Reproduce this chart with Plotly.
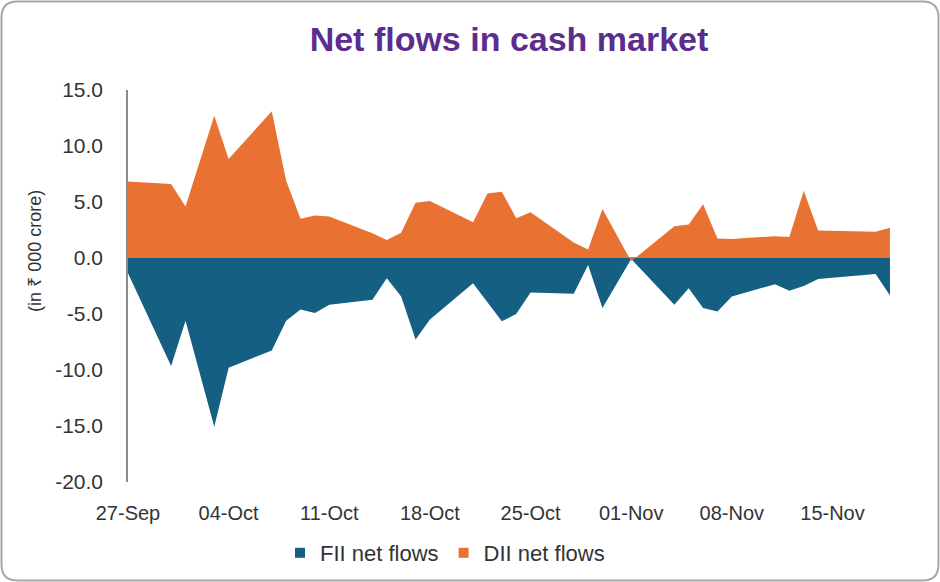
import plotly.graph_objects as go

dates = ['2024-09-27', '2024-09-30', '2024-10-01', '2024-10-03', '2024-10-04',
         '2024-10-07', '2024-10-08', '2024-10-09', '2024-10-10', '2024-10-11',
         '2024-10-14', '2024-10-15', '2024-10-16', '2024-10-17', '2024-10-18',
         '2024-10-21', '2024-10-22', '2024-10-23', '2024-10-24', '2024-10-25',
         '2024-10-28', '2024-10-29', '2024-10-30', '2024-10-31', '2024-11-01',
         '2024-11-04', '2024-11-05', '2024-11-06', '2024-11-07', '2024-11-08',
         '2024-11-11', '2024-11-12', '2024-11-13', '2024-11-14', '2024-11-18',
         '2024-11-19']

fii = [-1.36, -9.65, -5.6, -15.07, -9.8,
       -8.26, -5.6, -4.6, -4.9, -4.17,
       -3.73, -1.81, -3.43, -7.28, -5.5,
       -2.25, -3.95, -5.65, -5.0, -3.08,
       -3.2, -0.62, -4.47, -2.3, -0.1,
       -4.17, -2.7, -4.47, -4.77, -3.43,
       -2.34, -2.93, -2.49, -1.87, -1.42,
       -3.35]

dii = [6.84, 6.6, 4.6, 12.7, 8.85,
       13.1, 6.9, 3.5, 3.8, 3.7,
       2.2, 1.6, 2.25, 4.94, 5.09,
       3.2, 5.77, 5.92, 3.55, 4.08,
       1.39, 0.77, 4.38, 2.05, -0.3,
       2.84, 3.0, 4.8, 1.75, 1.7,
       1.95, 1.87, 6.0, 2.45, 2.35,
       2.7]

tick_dates = ['2024-09-27', '2024-10-04', '2024-10-11', '2024-10-18',
              '2024-10-25', '2024-11-01', '2024-11-08', '2024-11-15']
tick_text = ['27-Sep', '04-Oct', '11-Oct', '18-Oct', '25-Oct', '01-Nov', '08-Nov', '15-Nov']

y_ticks = [15, 10, 5, 0, -5, -10, -15, -20]
y_tick_text = ['15.0', '10.0', '5.0', '0.0', '-5.0', '-10.0', '-15.0', '-20.0']

FII_COLOR = '#156082'
DII_COLOR = '#E97132'
FONT = 'Liberation Sans, Arial, Noto Sans, sans-serif'

W, H = 940, 582
L, R, T, B = 128, 50, 90, 100

fig = go.Figure()
fig.add_trace(go.Scatter(x=dates, y=fii, mode='lines', fill='tozeroy',
                         line=dict(width=0, color=FII_COLOR), fillcolor=FII_COLOR,
                         showlegend=False, hoverinfo='skip'))
fig.add_trace(go.Scatter(x=dates, y=dii, mode='lines', fill='tozeroy',
                         line=dict(width=0, color=DII_COLOR), fillcolor=DII_COLOR,
                         showlegend=False, hoverinfo='skip'))
# legend entries
fig.add_trace(go.Scatter(x=[None], y=[None], mode='markers', name='FII net flows',
                         marker=dict(symbol='square', size=10, color=FII_COLOR)))
fig.add_trace(go.Scatter(x=[None], y=[None], mode='markers', name='DII net flows',
                         marker=dict(symbol='square', size=10, color=DII_COLOR)))

# rounded border in paper coordinates
pw, ph = W - L - R, H - T - B
def px(x):
    return (x - L) / pw
def py(y):
    return (H - B - y) / ph
x0, x1, y0, y1, r = 1.5, 938.5, 1.5, 580.5, 16
path = (f"M {px(x0 + r)},{py(y0)} L {px(x1 - r)},{py(y0)} "
        f"Q {px(x1)},{py(y0)} {px(x1)},{py(y0 + r)} "
        f"L {px(x1)},{py(y1 - r)} Q {px(x1)},{py(y1)} {px(x1 - r)},{py(y1)} "
        f"L {px(x0 + r)},{py(y1)} Q {px(x0)},{py(y1)} {px(x0)},{py(y1 - r)} "
        f"L {px(x0)},{py(y0 + r)} Q {px(x0)},{py(y0)} {px(x0 + r)},{py(y0)} Z")
fig.add_shape(type='path', path=path, xref='paper', yref='paper',
              line=dict(color='#A6A6A6', width=2), layer='above')

fig.add_annotation(text='(in ₹ 000 crore)', textangle=-90, showarrow=False,
                   xref='paper', yref='paper', x=px(35), y=py(251),
                   xanchor='center', yanchor='middle',
                   font=dict(family=FONT, size=18, color='#333333'))

fig.update_layout(
    width=W, height=H,
    margin=dict(l=L, r=R, t=T, b=B, autoexpand=False),
    paper_bgcolor='white', plot_bgcolor='white',
    font=dict(family=FONT, color='#333333', size=20),
    title=dict(text='<b>Net flows in cash market</b>', x=0.5, xref='paper', xanchor='center',
               y=1 - 39 / H, yref='container', yanchor='middle',
               font=dict(family=FONT, size=34, color='#5B2D8E')),
    legend=dict(orientation='h', x=445 / W, xref='container', xanchor='center',
                y=1 - 553 / H, yref='container', yanchor='middle',
                font=dict(size=22, color='#333333'), itemwidth=30,
                bgcolor='rgba(0,0,0,0)'),
    xaxis=dict(type='date', range=['2024-09-27', '2024-11-19'],
               tickvals=tick_dates, ticktext=tick_text, showgrid=False,
               zeroline=False, showline=False, ticks='', ticklabelstandoff=17,
               tickfont=dict(size=20)),
    yaxis=dict(range=[-20, 15], tickvals=y_ticks, ticktext=y_tick_text, showgrid=False,
               zeroline=True, zerolinecolor='#8C8C8C', zerolinewidth=1.5,
               showline=True, linecolor='#8C8C8C', linewidth=1.5,
               ticks='', ticklabelstandoff=19, layer='above traces',
               tickfont=dict(size=21)),
)

fig.write_html('out.html', config={'displayModeBar': False},
               post_script="document.body.style.margin='0';document.body.style.overflow='hidden';")
